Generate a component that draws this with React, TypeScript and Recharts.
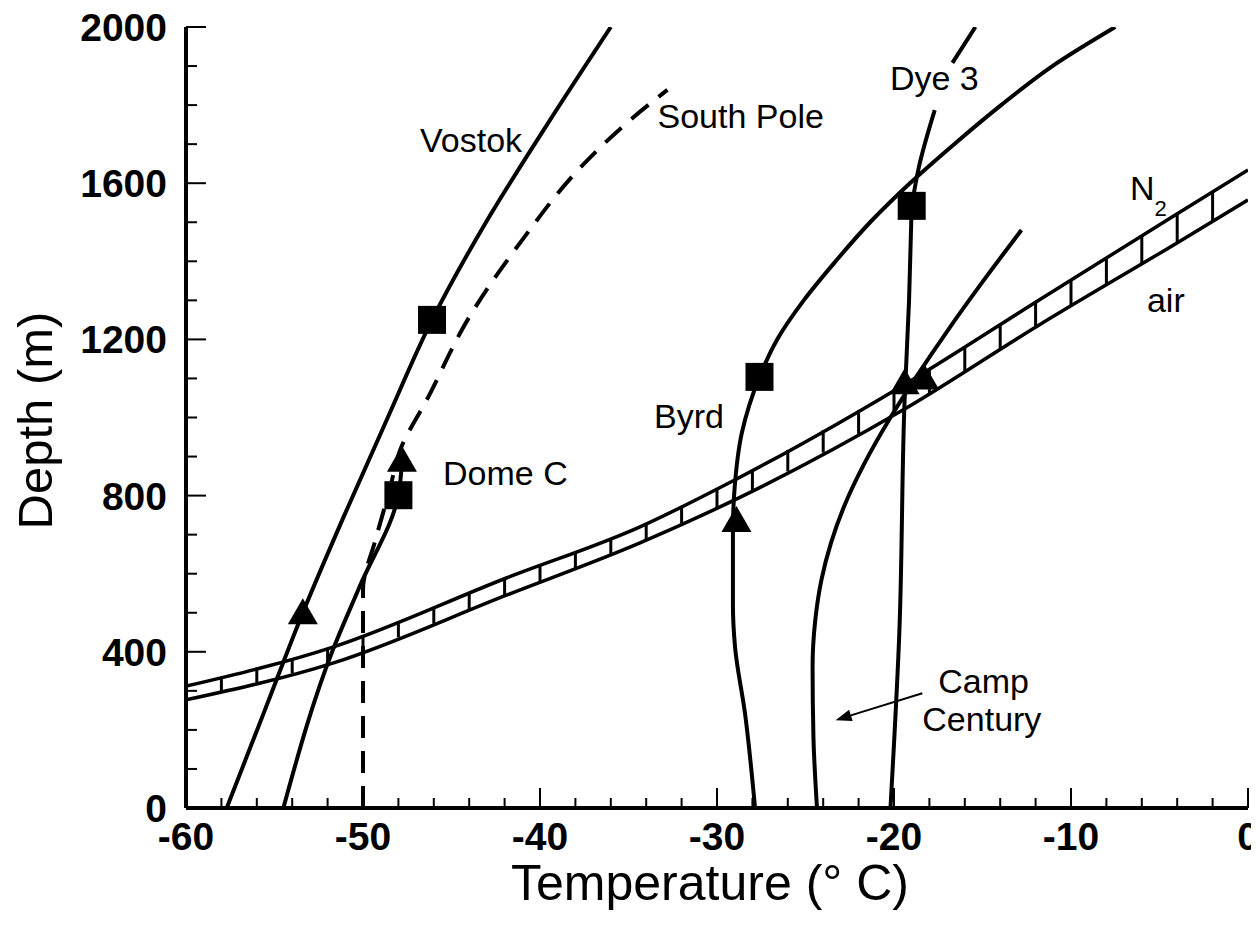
import React from 'react';
import { ComposedChart, Line, Scatter, XAxis, YAxis, ReferenceLine, ReferenceDot } from 'recharts';

const font = "'Liberation Sans', Arial, Helvetica, sans-serif";

// tick positions (every 2 deg C / every 100 m); labels only on majors
const xTicks = [-60, -58, -56, -54, -52, -50, -48, -46, -44, -42, -40, -38, -36, -34, -32, -30, -28, -26, -24, -22, -20, -18, -16, -14, -12, -10, -8, -6, -4, -2, 0];
const yTicks = [0, 100, 200, 300, 400, 500, 600, 700, 800, 900, 1000, 1100, 1200, 1300, 1400, 1500, 1600, 1700, 1800, 1900, 2000];

// temperature profiles, t = deg C, d = depth in m
const vostok = [
  { t: -57.7, d: 0 }, { t: -55.55, d: 250 }, { t: -53.4, d: 500 }, { t: -51.05, d: 750 },
  { t: -48.6, d: 1000 }, { t: -46.1, d: 1250 }, { t: -43.05, d: 1500 }, { t: -39.6, d: 1750 },
  { t: -36.0, d: 2000 },
];
const domeC = [
  { t: -54.5, d: 0 }, { t: -51.7, d: 405 }, { t: -50.2, d: 566 }, { t: -48.0, d: 801 }, { t: -47.8, d: 889 },
];
const southPole = [
  { t: -50.0, d: 0 }, { t: -50.0, d: 558 }, { t: -49.3, d: 686 }, { t: -48.5, d: 814 },
  { t: -47.9, d: 917 }, { t: -46.4, d: 1045 }, { t: -44.0, d: 1257 }, { t: -41.0, d: 1455 },
  { t: -37.7, d: 1641 }, { t: -34.9, d: 1762 }, { t: -32.8, d: 1839 },
];
const byrd = [
  { t: -27.85, d: 0 }, { t: -28.42, d: 243 }, { t: -28.98, d: 412 }, { t: -29.1, d: 520 },
  { t: -29.1, d: 712 }, { t: -29.0, d: 822 }, { t: -28.6, d: 960 }, { t: -27.6, d: 1104 },
  { t: -26.6, d: 1200 }, { t: -25.1, d: 1300 }, { t: -23.3, d: 1400 }, { t: -21.35, d: 1500 },
  { t: -19.1, d: 1600 }, { t: -16.6, d: 1700 }, { t: -13.95, d: 1800 }, { t: -11.05, d: 1900 },
  { t: -7.5, d: 2000 },
];
const campCentury = [
  { t: -24.35, d: 0 }, { t: -24.55, d: 180 }, { t: -24.6, d: 361 }, { t: -24.45, d: 480 },
  { t: -24.1, d: 584 }, { t: -23.55, d: 680 }, { t: -22.75, d: 780 }, { t: -21.7, d: 880 },
  { t: -20.2, d: 1000 }, { t: -18.8, d: 1100 }, { t: -16.95, d: 1224 }, { t: -15.05, d: 1344 },
  { t: -12.8, d: 1480 },
];
const dye3Lower = [
  { t: -20.2, d: 0 }, { t: -19.7, d: 448 }, { t: -19.4, d: 1045 }, { t: -19.15, d: 1300 }, { t: -19.0, d: 1542 },
];
const dye3Upper = [
  { t: -19.0, d: 1542 }, { t: -18.6, d: 1640 }, { t: -17.7, d: 1787 },
];
const dye3Top = [
  { t: -16.7, d: 1908 }, { t: -15.4, d: 2000 },
];

// clathrate boundaries
const n2Line = [
  { t: -60, d: 312 }, { t: -51.7, d: 412 }, { t: -41.9, d: 589 }, { t: -34.35, d: 720 },
  { t: -29.0, d: 840 }, { t: -18.7, d: 1104 }, { t: -11.8, d: 1301 }, { t: -4.2, d: 1516 }, { t: 0, d: 1634 },
];
const airLine = [
  { t: -60, d: 277 }, { t: -51.7, d: 371 }, { t: -41.9, d: 545 }, { t: -34.35, d: 679 },
  { t: -29.0, d: 789 }, { t: -19.5, d: 1019 }, { t: -11.8, d: 1237 }, { t: -4.2, d: 1442 }, { t: 0, d: 1557 },
];
const hatchT = [-58, -56, -54, -52, -50, -48, -46, -44, -42, -40, -38, -36, -34, -32, -30, -28, -26, -24, -22, -20, -18, -16, -14, -12, -10, -8, -6, -4, -2];
const hatchN2 = [336, 360, 384, 408, 443, 479, 515, 551, 587, 622, 656, 691, 728, 773, 818, 866, 917, 968, 1019, 1071, 1124, 1181, 1238, 1295, 1352, 1408, 1465, 1522, 1578];
const hatchAir = [300, 322, 345, 368, 401, 437, 472, 508, 543, 579, 614, 650, 686, 727, 768, 813, 862, 910, 958, 1007, 1061, 1118, 1175, 1231, 1286, 1340, 1394, 1447, 1502];

const squares = [
  { t: -46.1, d: 1250 }, { t: -48.0, d: 801 }, { t: -27.6, d: 1104 }, { t: -19.0, d: 1542 },
];
const triangles = [
  { t: -53.4, d: 499 }, { t: -47.8, d: 889 }, { t: -28.9, d: 735 }, { t: -19.4, d: 1088 }, { t: -18.3, d: 1100 },
];

const labels = [
  { text: 'Vostok', t: -46.78, d: 1680 },
  { text: 'South Pole', t: -33.36, d: 1741 },
  { text: 'Dome C', t: -45.48, d: 827 },
  { text: 'Byrd', t: -33.56, d: 973 },
  { text: 'Dye 3', t: -20.23, d: 1839 },
  { text: 'N', sub: '2', t: -6.67, d: 1557 },
  { text: 'air', t: -5.71, d: 1270 },
  { text: 'Camp', t: -17.5, d: 294 },
  { text: 'Century', t: -18.4, d: 197 },
];
const campArrow = [{ t: -18.4, d: 294 }, { t: -23.3, d: 225 }];

const tickText = { fontSize: 39, fontWeight: 'bold' as const, fontFamily: font, fill: '#000' };

const BottomTick = (props: any) => {
  const { x, y, payload } = props;
  const major = payload.value % 10 === 0;
  return (
    <g>
      <line x1={x} y1={y} x2={x} y2={y - (major ? 20 : 10)} stroke="#000" strokeWidth={2} />
      {major && (
        <text x={x} y={y + 42} textAnchor="middle" {...tickText}>{payload.value}</text>
      )}
    </g>
  );
};

const TopTick = (props: any) => {
  const { x, y, payload } = props;
  const major = payload.value % 10 === 0;
  return <line x1={x} y1={y} x2={x} y2={y + (major ? 16 : 8)} stroke="#000" strokeWidth={2} />;
};

const LeftTick = (props: any) => {
  const { x, y, payload } = props;
  const major = payload.value % 400 === 0;
  return (
    <g>
      <line x1={x} y1={y} x2={x + (major ? 20 : 11)} y2={y} stroke="#000" strokeWidth={2} />
      {major && (
        <text x={x - 19} y={y + 14} textAnchor="end" {...tickText}>{payload.value}</text>
      )}
    </g>
  );
};

const RightTick = (props: any) => {
  const { x, y, payload } = props;
  const major = payload.value % 400 === 0;
  return <line x1={x} y1={y} x2={x - (major ? 18 : 9)} y2={y} stroke="#000" strokeWidth={2} />;
};

const SquareMark = (p: any) => (
  <rect x={p.cx - 14} y={p.cy - 14} width={28} height={28} fill="#000" />
);

const TriangleMark = (p: any) => (
  <polygon
    points={`${p.cx},${p.cy - 15} ${p.cx - 15},${p.cy + 11} ${p.cx + 15},${p.cy + 11}`}
    fill="#000"
  />
);

const ArrowShape = (p: any) => {
  const { x1, y1, x2, y2 } = p;
  const len = Math.hypot(x2 - x1, y2 - y1) || 1;
  const ux = (x2 - x1) / len;
  const uy = (y2 - y1) / len;
  const bx = x2 - ux * 16;
  const by = y2 - uy * 16;
  return (
    <g>
      <line x1={x1} y1={y1} x2={bx} y2={by} stroke="#000" strokeWidth={2} />
      <polygon points={`${x2},${y2} ${bx - uy * 6},${by + ux * 6} ${bx + uy * 6},${by - ux * 6}`} fill="#000" />
    </g>
  );
};

const curve = {
  stroke: '#000',
  dot: false,
  activeDot: false,
  isAnimationActive: false,
  dataKey: 'd',
} as const;

export default function App() {
  return (
    <div style={{ position: 'relative', width: 1243, height: 929, fontFamily: font }}>
      <ComposedChart width={1243} height={929} margin={{ top: 19, right: 3, bottom: 0, left: 0 }}>
        <XAxis
          type="number"
          dataKey="t"
          domain={[-60, 0]}
          ticks={xTicks}
          interval={0}
          allowDataOverflow
          height={129}
          tickSize={0}
          tickMargin={0}
          tickLine={false}
          tick={BottomTick}
          axisLine={{ stroke: '#000', strokeWidth: 4 }}
        />
        <XAxis
          xAxisId="top"
          orientation="top"
          type="number"
          domain={[-60, 0]}
          ticks={xTicks}
          interval={0}
          height={0}
          tickSize={0}
          tickMargin={0}
          tickLine={false}
          tick={TopTick}
          axisLine={{ stroke: '#000', strokeWidth: 4 }}
        />
        <YAxis
          type="number"
          domain={[0, 2000]}
          ticks={yTicks}
          interval={0}
          allowDataOverflow
          width={178}
          tickSize={0}
          tickMargin={0}
          tickLine={false}
          tick={LeftTick}
          axisLine={{ stroke: '#000', strokeWidth: 4 }}
        />
        <YAxis
          yAxisId="right"
          orientation="right"
          type="number"
          domain={[0, 2000]}
          ticks={yTicks}
          interval={0}
          width={0}
          tickSize={0}
          tickMargin={0}
          tickLine={false}
          tick={RightTick}
          axisLine={{ stroke: '#000', strokeWidth: 3 }}
        />

        <Line {...curve} data={n2Line} type="monotoneX" strokeWidth={3.5} />
        <Line {...curve} data={airLine} type="monotoneX" strokeWidth={3.5} />
        {hatchT.map((t, i) => (
          <ReferenceLine
            key={`h${i}`}
            segment={[{ x: t, y: hatchAir[i] }, { x: t, y: hatchN2[i] }]}
            stroke="#000"
            strokeWidth={3}
          />
        ))}

        <Line {...curve} data={vostok} type="monotoneY" strokeWidth={4} />
        <Line {...curve} data={domeC} type="monotoneY" strokeWidth={4} />
        <Line {...curve} data={southPole} type="monotoneY" strokeWidth={4} strokeDasharray="22 13" />
        <Line {...curve} data={byrd} type="monotoneY" strokeWidth={4} />
        <Line {...curve} data={campCentury} type="monotoneY" strokeWidth={4} />
        <Line {...curve} data={dye3Lower} type="monotoneY" strokeWidth={4} />
        <Line {...curve} data={dye3Upper} type="monotoneY" strokeWidth={4} />
        <Line {...curve} data={dye3Top} type="monotoneY" strokeWidth={4} />

        <Scatter data={squares} dataKey="d" shape={SquareMark} isAnimationActive={false} />
        <Scatter data={triangles} dataKey="d" shape={TriangleMark} isAnimationActive={false} />

        <ReferenceLine
          segment={[{ x: campArrow[0].t, y: campArrow[0].d }, { x: campArrow[1].t, y: campArrow[1].d }]}
          shape={ArrowShape}
        />

        {labels.map((a) => (
          <ReferenceDot
            key={a.text}
            x={a.t}
            y={a.d}
            r={0}
            shape={(p: any) => (
              <text x={p.cx} y={p.cy} fontSize={34} fontFamily={font} fill="#000" textAnchor="start">
                {a.text}
                {a.sub && (
                  <tspan dy={16} fontSize={22}>{a.sub}</tspan>
                )}
              </text>
            )}
          />
        ))}
      </ComposedChart>

      <div
        style={{
          position: 'absolute', left: 452, top: 850, width: 500, textAlign: 'center',
          fontSize: 50, lineHeight: 1, color: '#000', whiteSpace: 'nowrap',
        }}
      >
        Temperature (° C)
      </div>
      <div
        style={{
          position: 'absolute', left: -123, top: 388, width: 300, height: 49, textAlign: 'center',
          fontSize: 49, lineHeight: 1, color: '#000', whiteSpace: 'nowrap', transform: 'rotate(-90deg)',
        }}
      >
        Depth (m)
      </div>
    </div>
  );
}
